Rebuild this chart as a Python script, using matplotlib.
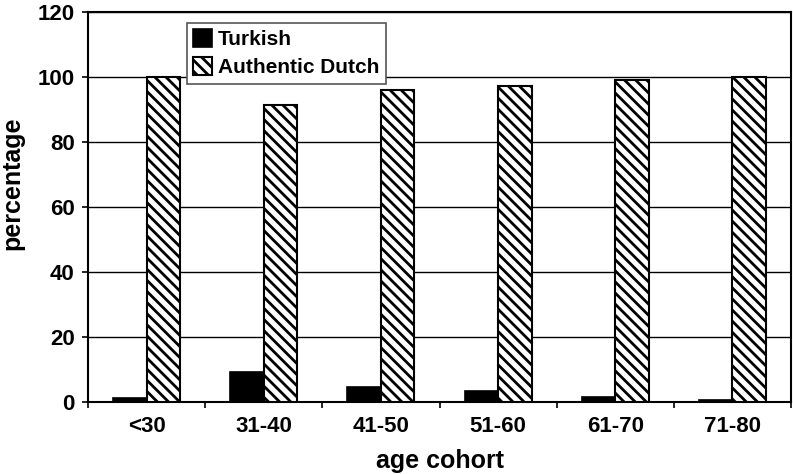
import numpy as np
import matplotlib.pyplot as plt

plt.rcParams['font.family'] = ['Liberation Sans', 'DejaVu Sans']
plt.rcParams['font.weight'] = 'bold'
plt.rcParams['hatch.linewidth'] = 2.0

cohorts = ['<30', '31-40', '41-50', '51-60', '61-70', '71-80']
turkish = [1.0, 9.0, 4.6, 3.3, 1.5, 0.5]
dutch = [100.0, 91.3, 95.9, 97.1, 99.0, 99.8]

fig = plt.figure(figsize=(7.93, 4.74), dpi=100)
ax = fig.add_axes([0.111, 0.1525, 0.8865, 0.8228])

x = np.arange(len(cohorts))
w = 0.286
ax.bar(x - w / 2, turkish, w, color='black', edgecolor='black', linewidth=1.2,
       label='Turkish', zorder=3)
ax.bar(x + w / 2, dutch, w, color='white', edgecolor='black', linewidth=1.5,
       hatch='\\\\\\', label='Authentic Dutch', zorder=3)

ax.set_xlim(-0.5, len(cohorts) - 0.5)
ax.set_ylim(0, 120)
ax.set_yticks(range(0, 121, 20))
ax.yaxis.grid(True, color='black', linewidth=1.0, zorder=0)

# category boundaries as major ticks, names on minor ticks
ax.set_xticks(np.arange(-0.5, len(cohorts), 1.0))
ax.set_xticklabels([])
ax.set_xticks(x, minor=True)
ax.set_xticklabels(cohorts, minor=True)
ax.tick_params(axis='x', which='major', direction='out', length=4.5, width=1.2)
ax.tick_params(axis='x', which='minor', length=0, pad=10, labelsize=16)
ax.tick_params(axis='y', direction='out', length=4.5, width=1.2, pad=5, labelsize=16)

for s in ax.spines.values():
    s.set_linewidth(1.5)
    s.set_color('black')

ax.set_ylabel('percentage', fontsize=18, fontweight='bold')
ax.yaxis.set_label_coords(-0.09, 0.56)
ax.set_xlabel('age cohort', fontsize=18, fontweight='bold', labelpad=9)

leg = ax.legend(loc='upper left', bbox_to_anchor=(187 / 793, 1 - 23 / 474),
                bbox_transform=fig.transFigure, fontsize=15, frameon=True,
                fancybox=False, edgecolor='#555555', framealpha=1,
                handlelength=0.9, handleheight=0.9, handletextpad=0.3,
                borderpad=0.3, labelspacing=0.4, borderaxespad=0)
leg.get_frame().set_linewidth(1.2)
leg.set_zorder(5)

fig.savefig('out.png', dpi=100)
